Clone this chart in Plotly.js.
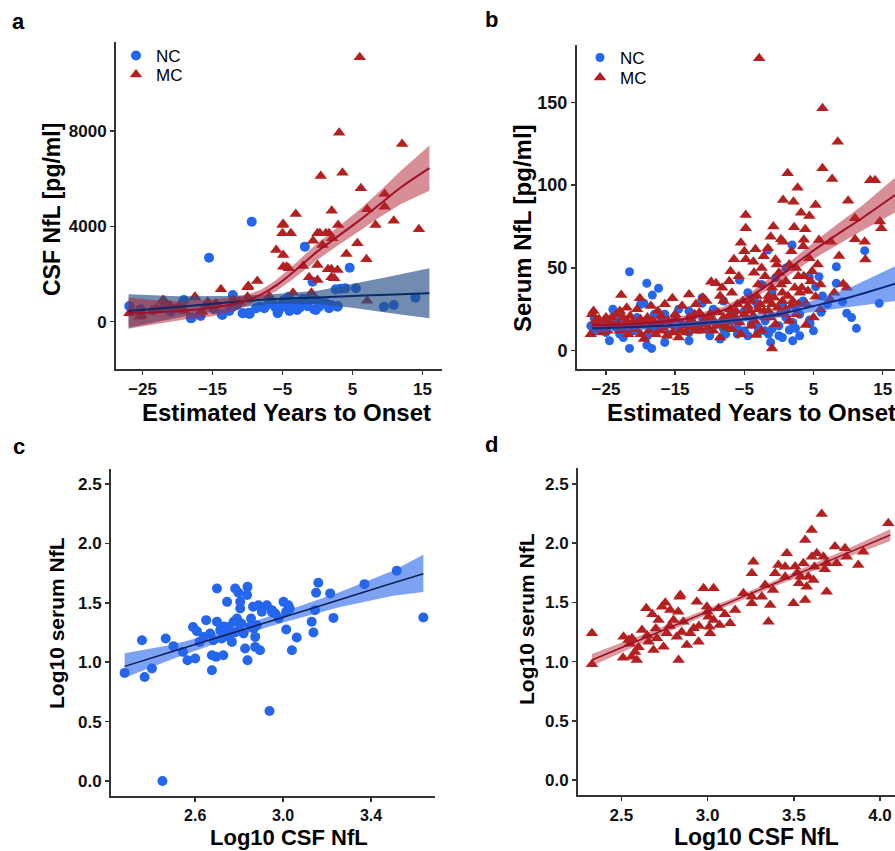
<!DOCTYPE html>
<html><head><meta charset="utf-8">
<script src="https://cdn.plot.ly/plotly-3.0.1.min.js"></script>
<style>html,body{margin:0;padding:0;background:#fff;}#chart{width:895px;height:851px;}</style>
</head><body><div id="chart"></div>
<script>
// ---------- Panel a: CSF NfL vs estimated years to onset ----------
const aNC = [[-26.9,659],[-26.8,630],[-25.3,520],[-23.5,480],[-22.0,600],[-21.0,420],[-20.2,560],[-19.2,840],[-19.1,911],[-18.1,143],[-18.0,150],[-16.8,281],[-16.7,239],[-15.5,2686],[-14.8,520],[-13.7,309],[-13.6,281],[-12.6,450],[-12.1,1120],[-12.1,630],[-11.5,700],[-10.7,352],[-10.6,352],[-9.8,378],[-9.7,323],[-9.4,4197],[-8.8,560],[-8.3,630],[-7.6,562],[-7.2,700],[-6.8,800],[-6.4,772],[-6.0,600],[-5.7,352],[-5.5,491],[-5.2,700],[-4.8,911],[-4.5,630],[-4.1,1049],[-4.0,450],[-3.6,820],[-3.1,772],[-2.9,491],[-2.5,600],[-2.1,961],[-1.8,3148],[-1.7,772],[-1.4,650],[-1.2,911],[-0.7,1679],[-0.5,520],[-0.24,911],[-0.24,491],[0.23,630],[0.6,800],[1.2,772],[1.66,562],[2.0,700],[2.6,1360],[2.86,630],[2.9,659],[3.3,1380],[4.0,1402],[4.6,2266],[5.5,1402],[9.5,630],[10.9,700],[14.0,1007]];
const aMC = [[-26.9,352],[-25.4,210],[-25.2,281],[-23.0,562],[-22.1,911],[-21.9,880],[-21.1,700],[-19.8,650],[-19.0,450],[-17.6,1007],[-17.5,1049],[-16.5,420],[-15.9,700],[-15.7,840],[-14.5,772],[-13.8,1360],[-12.1,911],[-11.2,840],[-10.0,1444],[-10.0,1049],[-9.9,1498],[-8.6,1708],[-6.9,1079],[-5.9,3009],[-5.0,4058],[-5.0,3710],[-4.9,2799],[-4.9,4100],[-4.9,2308],[-4.4,2308],[-4.1,2240],[-3.8,3710],[-3.5,1217],[-3.1,4520],[-2.06,2337],[-1.2,1863],[-0.86,1217],[-0.63,3400],[0.0,2380],[0.0,1750],[0.0,3710],[0.33,3710],[0.47,6115],[0.71,3219],[1.2,3710],[1.5,2199],[1.66,3710],[2.0,2199],[2.0,1863],[2.04,4659],[2.1,3500],[2.4,1821],[2.86,2170],[2.95,4058],[3.1,7932],[3.57,6254],[4.14,2841],[5.7,3290],[6.04,11097],[6.2,5599],[7.0,2619],[7.1,4717],[7.1,881],[8.3,4058],[9.6,5360],[9.6,4826],[10.9,4239],[12.1,7458],[14.5,3878]];
// fitted curves (x, fit, lower, upper)
const aFitMCx  = [-27,-23,-19,-15,-12,-10,-8,-6,-4,-2,0,3,6,9,12,16];
const aFitMCy  = [350,400,470,580,740,911,1150,1500,1950,2450,2950,3600,4250,4950,5650,6440];
const aFitMClo = [-300,-100,90,230,440,690,950,1270,1680,2130,2600,3220,3800,4400,4950,5490];
const aFitMChi = [1000,900,850,930,1040,1130,1350,1730,2220,2770,3300,3980,4700,5500,6350,7390];
const aFitNCx  = [-27,-20,-13,-7,0,5,10,16];
const aFitNCy  = [450,620,800,940,1020,1080,1130,1190];
const aFitNClo = [-250,170,520,740,740,580,380,140];
const aFitNChi = [1150,1070,1080,1140,1300,1580,1880,2240];

// ---------- Panel b: Serum NfL vs estimated years to onset ----------
const bNC = [[-21.6,47.7],[-19.1,40.7],[-17.4,37.7],[-18.3,33.6],[-19.5,28.6],[-21.6,1.4],[-19.1,3.4],[-18.4,1.4],[1.9,63.8],[12.4,60.4],[8.3,50.7],[8.3,40.7],[4.4,44.7],[5.8,44.7],[5.3,38.6],[9.2,29.6],[9.8,22.6],[11.2,13.5],[14.5,28.6],[6.1,23.2],[4.5,16.5],[-5.7,42.7],[-1.6,60.8],[-11.1,32],[-11.1,28.6],[-26.7,19.6],[-26.8,11.5],[-27.2,15],[-3.1,27.6],[1.5,12.5],[2.4,13.5],[4.4,18.5],[6.3,33],[-7.7,10],[-6,10],[-4.5,9],[-3,11],[-1.5,10],[0,9],[-2,12],[-26,13],[-25,11],[-24,18],[-23,10],[-22.5,8],[-22,15],[-21,12],[-20,17],[-19,9],[-18,14],[-17,18],[-16,10],[-15,13],[-14,16],[-13,11],[-12,14],[-11,19],[-10,12],[-9,16],[-8,13],[-7,18],[-6,14],[-5,12],[-4,16],[-3,14],[-2,18],[-1,13],[0,15],[1,20],[2,17],[3,22],[-25.5,17],[-23.5,14],[-20.5,20],[-16.5,22],[-14.5,25],[-12.5,21],[-9.5,25],[-8,30],[-6.5,22],[-5,24],[-3.5,30],[-1,35],[0.5,28],[2.5,25],[3.5,30],[-4.5,35],[-2.5,40],[-0.5,44],[1,50],[-20,28],[-24,25],[-18,22],[-15,19],[-13,24],[-10,9],[-8.5,7],[-13,6],[-16.5,5],[-24.5,6],[0.5,8],[2,6],[-1.2,5],[-23,20],[7.0,28],[10.5,20],[5.0,12],[3.0,9]];
const bMC = [[-2.85,176.6],[6.3,146.4],[8.5,126.2],[6.3,110.1],[1.26,107.1],[7.7,103.7],[13.2,103],[13.9,103],[2.7,98.4],[0.6,91],[2.1,90],[5.3,88],[10.0,90.6],[3.2,83.3],[4.4,81.3],[-4.8,82],[11.0,80],[14.6,78],[14.8,74],[-4.8,74],[2.2,74.5],[3.8,73.3],[11.0,67.3],[12.4,65.8],[-5.5,65.2],[-1.2,68.8],[0.3,67.3],[0.6,65.8],[5.8,66.8],[7.5,65.8],[-3.4,61.2],[-1.6,61.8],[3.6,67],[3.5,63],[-6.5,55.2],[-4.8,55.2],[-3.7,53.7],[8.7,57.2],[4.4,55.8],[9.3,40.3],[7.4,31],[5.3,32.6],[-1.0,1.4],[-3.3,9.5],[-22.8,33.6],[-20.1,31.6],[-15.4,31.6],[-9.8,41.7],[-9.1,40.7],[3.9,15.5],[1.5,52],[2.5,50],[0.0,47],[-0.5,55],[-2.5,50],[-2,45],[-5.8,45],[-7.2,42],[-8.2,38],[-6.8,35],[-3,40],[-1,38],[1,42],[2.8,45],[4.8,48],[6,40],[0.5,30],[-1.5,33],[-4,30],[-6,28],[-8,30],[-10.5,30],[-12,28],[-14,27],[-16.5,28],[-18.5,27],[-20.5,25],[-22,26],[-23.5,22],[-25,20],[-26.5,18],[-27,22],[-26,14],[-25.5,11],[-27.2,10],[-24,15],[-23,12],[-22,18],[-21,14],[-20,10],[-19,20],[-18,15],[-17,12],[-16,18],[-15,22],[-14,15],[-13,20],[-12,12],[-11,17],[-10,22],[-9,15],[-8,20],[-7,25],[-6,18],[-5,22],[-4,15],[-3,25],[-2,20],[-1,28],[0,22],[1,25],[2,30],[3,35],[4,28],[5,20],[6,25],[-24.5,17],[-21.5,21],[-18.8,12],[-16.2,9],[-13.5,11],[-11.5,23],[-9.5,12],[-7.5,14],[-5.5,10],[-3.5,18],[-2.5,12],[-0.5,16],[1.5,18],[2.5,22],[-8.5,8],[-14.5,8],[-19.5,7],[-25,16],[-26,19],[-23,24],[-20,19],[-17,21],[-12.5,18],[-10.5,19],[-6.5,21],[-4.5,27],[-1.5,24],[0.5,35],[3.3,38],[4.6,42],[-7,48],[-5,60],[-2.2,57],[1.8,60],[5.6,52],[8.0,35],[9.8,38],[12.5,55],[-0.8,75],[-8.5,33],[-11,32],[-13,34],[-17.5,24],[-22.5,20],[-26.8,24],[-26.3,16],[-25.7,13],[-24.8,12],[-24.2,20],[-23.2,16],[-22.7,13],[-21.8,10],[-21.2,17],[-20.7,13],[-19.8,15],[-19.2,17],[-18.2,18],[-17.8,10],[-17.2,16],[-16.8,14],[-15.8,15],[-15.3,11],[-14.8,19],[-14.2,12],[-13.2,16],[-12.8,14],[-12.2,22],[-11.7,15],[-11.2,12],[-10.8,16],[-10.2,14],[-9.7,19],[-9.2,17],[-8.8,23],[-8.3,16],[-7.8,18],[-7.3,21],[-6.8,13],[-6.2,24],[-5.7,17],[-5.2,30],[-4.7,20],[-4.2,24],[-3.7,21],[-3.2,33],[-2.7,28],[-2.2,24],[-1.7,30],[-1.2,20],[-0.7,32],[-0.2,26],[0.3,40],[0.8,22],[1.3,33],[1.8,27],[2.3,38],[2.8,28],[3.6,45],[4.2,36],[-0.3,52],[-3.6,47]];
const bFitMCx  = [-27,-22,-17,-12,-8,-4,0,4,8,12,16.8];
const bFitMCy  = [15.5,16,17.5,20.5,24.5,33,44.7,57.5,69,80,94];
const bFitMClo = [13,14,15.7,18.7,22.5,30.5,41.2,53,63,72.5,83.5];
const bFitMChi = [18,18,19.3,22.3,26.5,35.5,48.2,62,75,87.5,104.5];
const bFitNCx  = [-27,-20,-13,-6,0,5,10,16.8];
const bFitNCy  = [13.5,14.5,16,18.5,22,27,32,40.5];
const bFitNClo = [11,12.5,14.5,17,20,23.5,26.5,30];
const bFitNChi = [16,16.5,17.5,20,24,30.5,37.5,51];

// ---------- Panel c: NC, log10 serum vs log10 CSF ----------
const cNC = [[2.279,0.91],[2.358,1.185],[2.37,0.876],[2.403,0.947],[2.451,0.0],[2.466,1.2],[2.501,1.135],[2.544,1.087],[2.565,1.017],[2.6,1.031],[2.59,1.297],[2.608,1.261],[2.62,1.171],[2.638,1.213],[2.65,1.354],[2.668,1.242],[2.683,1.185],[2.699,1.621],[2.699,1.34],[2.676,1.059],[2.695,1.045],[2.728,1.059],[2.676,0.933],[2.714,1.27],[2.721,1.2],[2.745,1.508],[2.752,1.297],[2.76,1.242],[2.767,1.171],[2.775,1.34],[2.79,1.368],[2.782,1.621],[2.797,1.584],[2.805,1.508],[2.805,1.452],[2.8,1.27],[2.81,1.326],[2.82,1.242],[2.838,1.634],[2.836,1.565],[2.827,1.115],[2.838,1.017],[2.854,1.368],[2.863,1.466],[2.866,1.284],[2.873,1.213],[2.88,1.312],[2.888,1.48],[2.903,1.424],[2.873,1.129],[2.895,1.101],[2.938,0.59],[2.926,1.48],[2.949,1.438],[2.964,1.41],[2.98,1.368],[3.002,1.508],[3.014,1.424],[3.024,1.48],[3.014,1.275],[3.04,1.101],[3.062,1.208],[3.13,1.34],[3.138,1.25],[3.145,1.438],[3.15,1.584],[3.16,1.668],[3.214,1.579],[3.229,1.373],[3.37,1.657],[3.517,1.769],[3.638,1.376],[2.73,1.3],[2.74,1.22],[2.78,1.25],[2.85,1.3],[3.03,1.45],[2.95,1.42]];
const cFitX  = [2.279,2.5,2.75,3.0,3.25,3.5,3.638];
const cFitY  = [0.965,1.092,1.235,1.379,1.522,1.666,1.745];
const cFitLo = [0.87,1.03,1.195,1.335,1.46,1.56,1.59];
const cFitHi = [1.075,1.15,1.275,1.425,1.585,1.77,1.905];

// ---------- Panel d: MC, log10 serum vs log10 CSF ----------
const dMC = [[2.33,1.239],[2.33,0.977],[2.513,1.21],[2.542,1.182],[2.562,1.197],[2.51,1.033],[2.56,1.041],[2.59,1.013],[2.62,1.267],[2.645,1.45],[2.658,1.168],[2.687,1.098],[2.707,1.197],[2.716,1.351],[2.736,1.464],[2.755,1.497],[2.745,1.126],[2.764,1.239],[2.784,1.436],[2.803,1.351],[2.822,1.21],[2.838,1.548],[2.842,1.562],[2.832,1.013],[2.83,1.421],[2.86,1.337],[2.88,1.14],[2.9,1.239],[2.92,1.281],[2.938,1.506],[2.948,1.168],[2.977,1.619],[3.035,1.619],[2.996,1.464],[3.005,1.379],[3.01,1.295],[3.015,1.239],[3.035,1.351],[3.064,1.45],[3.07,1.309],[3.131,1.323],[3.16,1.436],[3.208,1.577],[3.257,1.548],[3.257,1.746],[3.266,1.844],[3.257,1.492],[3.315,1.548],[3.334,1.647],[3.353,1.337],[3.363,1.478],[3.38,1.605],[3.392,1.746],[3.411,1.816],[3.45,1.717],[3.46,1.915],[3.498,1.492],[3.508,1.802],[3.53,1.661],[3.54,1.717],[3.556,1.83],[3.566,2.027],[3.566,1.52],[3.575,1.633],[3.585,1.717],[3.605,1.886],[3.614,1.69],[3.633,1.915],[3.604,2.111],[3.662,2.247],[3.672,1.886],[3.691,1.83],[3.691,1.59],[3.739,1.971],[3.749,1.83],[3.797,1.957],[3.807,1.886],[3.874,1.816],[3.903,1.928],[4.048,2.168],[2.55,1.15],[2.6,1.12],[2.65,1.22],[2.7,1.28],[2.78,1.3],[2.85,1.25],[2.95,1.3],[3.0,1.42],[2.68,1.4],[2.58,1.08],[3.1,1.4],[3.45,1.8],[3.52,1.75],[3.62,1.8],[3.68,1.78]];
const dFitX  = [2.33,2.6,3.0,3.4,3.8,4.06];
const dFitY  = [1.013,1.178,1.422,1.666,1.91,2.069];
const dFitLo = [0.963,1.143,1.397,1.641,1.875,2.019];
const dFitHi = [1.063,1.213,1.447,1.691,1.945,2.119];

// ---------- Tick labels ----------
const yearTicks = [-25,-15,-5,5,15];
const yearTickText = ['\u221225','\u221215','\u22125','5','15'];
const aYTicks = [0,4000,8000];
const bYTicks = [0,50,100,150];
const logYTicks = [0,0.5,1,1.5,2,2.5];
const logYTickText = ['0.0','0.5','1.0','1.5','2.0','2.5'];
const cXTicks = [2.6,3.0,3.4];
const cXTickText = ['2.6','3.0','3.4'];
const dXTicks = [2.5,3.0,3.5,4.0];
const dXTickText = ['2.5','3.0','3.5','4.0'];

// ---------- Styles ----------
const BLUE = '#2466ee', RED = '#b3201f';
const FONT = 'Liberation Sans, Arial, Helvetica, sans-serif';
const xs = a => a.map(p => p[0]);
const ys = a => a.map(p => p[1]);

function pts(data, ax, name, sym, color, size, legendName, showlegend) {
  return {type:'scatter', mode:'markers', x:xs(data), y:ys(data), xaxis:'x'+ax, yaxis:'y'+ax,
    name:name, legend:legendName, showlegend:showlegend, hoverinfo:'skip',
    marker:{symbol:sym, color:color, size:size, line:{width:0}}};
}
function band(x, lo, hi, ax, fill) {
  return {type:'scatter', mode:'lines', x:x.concat(x.slice().reverse()), y:hi.concat(lo.slice().reverse()),
    xaxis:'x'+ax, yaxis:'y'+ax, fill:'toself', fillcolor:fill, line:{width:0}, showlegend:false, hoverinfo:'skip'};
}
function fitline(x, y, ax, color, w) {
  return {type:'scatter', mode:'lines', x:x, y:y, xaxis:'x'+ax, yaxis:'y'+ax,
    line:{color:color, width:w, shape:'spline'}, showlegend:false, hoverinfo:'skip'};
}

const traces = [
  pts(aNC,'', 'NC','circle',BLUE,10,'legend',true),
  pts(aMC,'', 'MC','triangle-up',RED,11,'legend2',true),
  band(aFitNCx,aFitNClo,aFitNChi,'','rgba(40,80,135,0.66)'),
  band(aFitMCx,aFitMClo,aFitMChi,'','rgba(178,30,45,0.5)'),
  fitline(aFitNCx,aFitNCy,'','#0b2a66',2),
  fitline(aFitMCx,aFitMCy,'','#a0102a',2),

  pts(bNC,'2','NC','circle',BLUE,9,'legend3',true),
  pts(bMC,'2','MC','triangle-up',RED,11,'legend4',true),
  band(bFitNCx,bFitNClo,bFitNChi,'2','rgba(40,100,235,0.6)'),
  band(bFitMCx,bFitMClo,bFitMChi,'2','rgba(178,30,45,0.5)'),
  fitline(bFitNCx,bFitNCy,'2','#0a2a7a',2),
  fitline(bFitMCx,bFitMCy,'2','#a0102a',2),

  pts(cNC,'3','NC','circle',BLUE,10,'legend',false),
  band(cFitX,cFitLo,cFitHi,'3','rgba(40,100,235,0.6)'),
  fitline(cFitX,cFitY,'3','#0a1f55',1.5),

  pts(dMC,'4','MC','triangle-up',RED,11,'legend',false),
  band(dFitX,dFitLo,dFitHi,'4','rgba(178,30,45,0.45)'),
  fitline(dFitX,dFitY,'4','#9a1020',1.5)
];

const W = 895, H = 851;
const px = v => v / W, py = v => 1 - v / H;
function axisBase(size, extra) {
  return Object.assign({showline:true, linecolor:'#333', linewidth:2, ticks:'outside', ticklen:4,
    tickwidth:1.5, tickcolor:'#333', showgrid:false, zeroline:false, mirror:false,
    tickfont:{family:FONT, size:size, color:'#111', weight:'bold'}, tickmode:'array', fixedrange:true}, extra);
}
function ann(text, x, y, size, rot) {
  return {text:'<b>'+text+'</b>', x:px(x), y:py(y), xref:'paper', yref:'paper', showarrow:false,
    xanchor:'center', yanchor:'middle', textangle:rot||0, borderpad:0, font:{family:FONT, size:size, color:'#000'}};
}
function leg(x, top) {
  return {x:px(x), y:py(top), xanchor:'left', yanchor:'top', bgcolor:'rgba(0,0,0,0)', borderwidth:0,
    font:{family:FONT, size:17, color:'#000'}, tracegroupgap:0, itemclick:false};
}

const layout = {
  width:W, height:H, margin:{l:0,r:0,t:0,b:0}, paper_bgcolor:'#fff', plot_bgcolor:'rgba(0,0,0,0)',
  font:{family:FONT},
  xaxis: axisBase(17,{domain:[px(116),px(442)], range:[-28.8,17.8], tickvals:yearTicks, ticktext:yearTickText, anchor:'y'}),
  yaxis: axisBase(17,{domain:[py(369),py(42)], range:[-1985,11735], tickvals:aYTicks, ticktext:aYTicks.map(String), anchor:'x'}),
  xaxis2: axisBase(17,{domain:[px(577),1], range:[-29.19,16.78], tickvals:yearTicks, ticktext:yearTickText, anchor:'y2'}),
  yaxis2: axisBase(18,{domain:[py(369),py(45)], range:[-11.05,184.6], tickvals:bYTicks, ticktext:bYTicks.map(String), anchor:'x2'}),
  xaxis3: axisBase(16,{domain:[px(111),px(435)], range:[2.217,3.691], tickvals:cXTicks, ticktext:cXTickText, anchor:'y3'}),
  yaxis3: axisBase(17,{domain:[py(796),py(469)], range:[-0.126,2.626], tickvals:logYTicks, ticktext:logYTickText, anchor:'x3'}),
  xaxis4: axisBase(17,{domain:[px(578),1], range:[2.249,4.087], tickvals:dXTicks, ticktext:dXTickText, anchor:'y4'}),
  yaxis4: axisBase(17,{domain:[py(795),py(468)], range:[-0.127,2.635], tickvals:logYTicks, ticktext:logYTickText, anchor:'x4'}),
  legend: leg(116, 38),
  legend2: leg(116, 57),
  legend3: leg(580, 40),
  legend4: leg(580, 60),
  showlegend:true,
  annotations: [
    ann('a',18,21,22), ann('b',491,20,22), ann('c',19,446,22), ann('d',491,444,22),
    ann('CSF NfL [pg/ml]',52,210,23,-90), ann('Estimated Years to Onset',286.5,412,24),
    ann('Serum NfL [pg/ml]',522,228,24,-90), ann('Estimated Years to Onset',751,412,24),
    ann('Log10 serum NfL',56,623,21,-90), ann('Log10 CSF NfL',288.5,837,22),
    ann('Log10 serum NfL',526,619,21,-90), ann('Log10 CSF NfL',756.5,837,23)
  ]
};

Plotly.newPlot('chart', traces, layout, {staticPlot:true, displayModeBar:false});
</script></body></html>
